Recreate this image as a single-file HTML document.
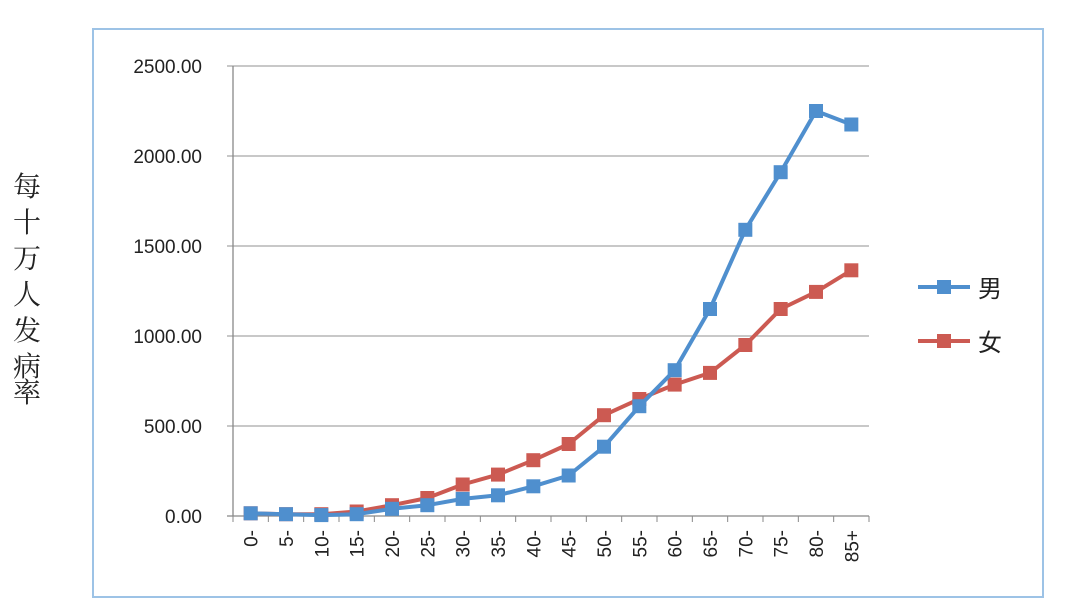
<!DOCTYPE html>
<html><head><meta charset="utf-8"><style>
body{margin:0;background:#fff;}
svg{display:block;font-family:"Liberation Sans","Noto Sans CJK SC",sans-serif;}
</style></head><body>
<svg width="1080" height="608">
<rect x="93" y="29" width="950" height="568" fill="#fff" stroke="#9dc3e6" stroke-width="2"/>
<g id="grid"></g><g id="axes"></g><g id="series"></g>
<g font-size="28" fill="#222" text-anchor="middle" font-family="'Noto Serif CJK SC','Noto Sans CJK SC',serif">
<text x="27" y="196">每</text><text x="27" y="232">十</text><text x="27" y="268">万</text><text x="27" y="304">人</text><text x="27" y="340">发</text><text x="27" y="376">病</text><text x="27" y="395" dy="0"> </text><text x="27" y="402">率</text>
</g>
<g>
<g><line x1="918" y1="287" x2="970" y2="287" stroke="#4f8fce" stroke-width="4"/><rect x="937" y="280" width="14" height="14" fill="#4f8fce"/><text x="978" y="297" font-size="24" fill="#222">男</text></g>
<g><line x1="918" y1="341" x2="970" y2="341" stroke="#cc5a52" stroke-width="4"/><rect x="937" y="334" width="14" height="14" fill="#cc5a52"/><text x="978" y="351" font-size="24" fill="#222">女</text></g>
</g>
</svg>
<script>
const categories=["0-","5-","10-","15-","20-","25-","30-","35-","40-","45-","50-","55-","60-","65-","70-","75-","80-","85+"];
const maleValues=[15,10,5,10,40,60,95,115,165,225,385,610,810,1150,1590,1910,2250,2175];
const femaleValues=[15,10,10,25,60,100,175,230,310,400,560,650,730,795,950,1150,1245,1365];
const yTicks=[0,500,1000,1500,2000,2500];
const yTickLabels=["0.00","500.00","1000.00","1500.00","2000.00","2500.00"];
const NS="http://www.w3.org/2000/svg";
const x0=233,x1=869,y0=516,y1=66;
const step=(x1-x0)/categories.length;
const xs=i=>x0+step*(i+0.5);
const ys=v=>y0-(v/2500)*(y0-y1);
function mk(t,a,p){const e=document.createElementNS(NS,t);for(const k in a)e.setAttribute(k,a[k]);p.appendChild(e);return e;}
const grid=document.getElementById('grid'),axes=document.getElementById('axes'),ser=document.getElementById('series');
yTicks.forEach((v,i)=>{
 const l=mk('line',{x1:227,x2:x1,y1:ys(v),y2:ys(v),stroke:i==0?'#888':'#a6a6a6','stroke-width':1.3},grid);
 
 
 const t=mk('text',{x:202,y:ys(v)+7,'text-anchor':'end','font-size':19,fill:'#222'},axes);
 t.textContent=yTickLabels[i];
 
 
});
const ya=mk('line',{x1:x0,x2:x0,y1:y1,y2:y0,stroke:'#888','stroke-width':1.3},axes);


categories.forEach((c,i)=>{
 const tx=x0+step*(i+1);
 mk('line',{x1:tx,x2:tx,y1:y0,y2:y0+6,stroke:'#888'},axes);
 const t=mk('text',{transform:`translate(${xs(i)+7},${y0+14}) rotate(-90)`,'text-anchor':'end','font-size':19,fill:'#222'},axes);
 t.textContent=c;
 
 
});
mk('line',{x1:x0,x2:x0,y1:y0,y2:y0+6,stroke:'#888'},axes);
function draw(vals,col,name){
 const p=mk('polyline',{points:vals.map((v,i)=>xs(i)+','+ys(v)).join(' '),fill:'none',stroke:col,'stroke-width':4,'stroke-linejoin':'round'},ser);
 
 
 vals.forEach((v,i)=>{
  const r=mk('rect',{x:xs(i)-7,y:ys(v)-7,width:14,height:14,fill:col},ser);
  
  
 });
}
draw(femaleValues,'#cc5a52','female');
draw(maleValues,'#4f8fce','male');
</script>
</body></html>
